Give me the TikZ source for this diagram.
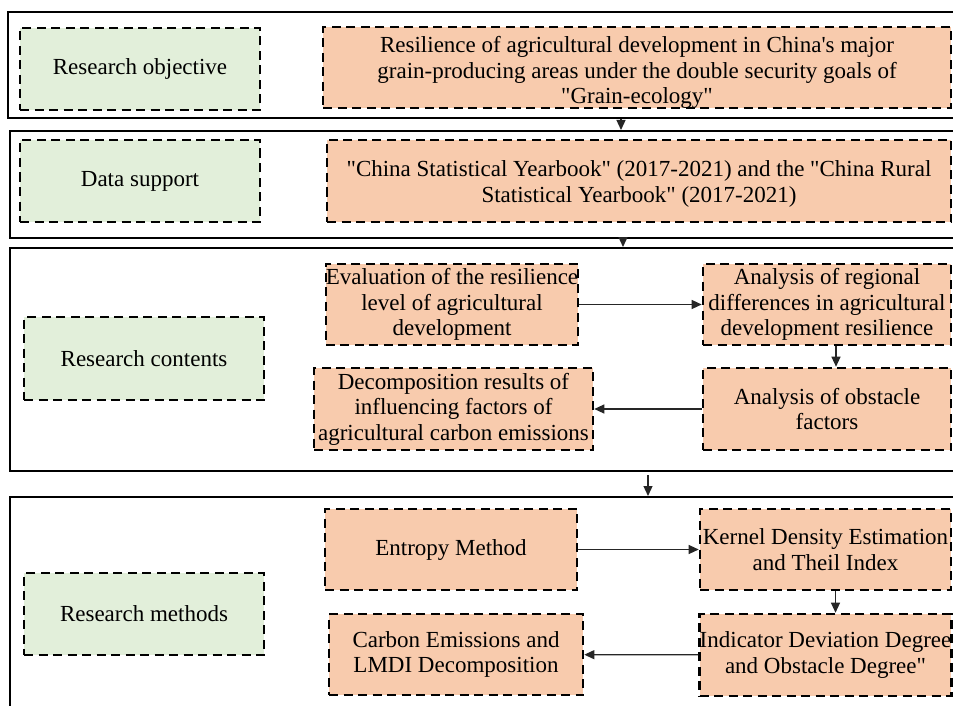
\documentclass[tikz,border=0pt]{standalone}
\usepackage{fontspec}
\setmainfont{Liberation Serif}[Ligatures=TeXOff]
\usetikzlibrary{arrows.meta}
\tikzset{
	band/.style={draw=black, line width=2pt, rectangle, inner sep=0pt},
	boxtext/.style={align=center, font=\fontsize{23}{25.5}\selectfont},
	dashbox/.style={draw=black, line width=2.6pt, dash pattern=on 9pt off 5.5pt, rectangle, inner sep=1pt, boxtext},
	greenbox/.style={dashbox, fill={rgb,255:red,226;green,239;blue,218}},
	orangebox/.style={dashbox, fill={rgb,255:red,248;green,203;blue,173}},
	flow/.style={line width=1.2pt, color=black!85, -{Triangle[length=10pt,width=9pt]}}
}

\begin{document}
\begin{tikzpicture}[x=1pt, y=-1pt]
		%%%%% START %%%%%
		\useasboundingbox (0, 0) rectangle (953, 706);
		\clip (0, 0) rectangle (953, 706);
		\fill[white] (0, 0) rectangle (953, 706);
		
		% frames of the four rows
		\node[band, minimum width=957pt, minimum height=106pt] (band1) at (486.5, 65) {};
		\node[band, minimum width=955pt, minimum height=107pt] (band2) at (487.5, 184.5) {};
		\node[band, minimum width=955pt, minimum height=223pt] (band3) at (487.5, 359.5) {};
		\node[band, minimum width=955pt, minimum height=223pt] (band4) at (487.5, 608.5) {};
		
		% left labels
		\node[greenbox, minimum width=240pt, minimum height=82pt] (obj) at (140, 69) {Research objective};
		\node[greenbox, minimum width=240pt, minimum height=82pt] (data) at (140, 181) {Data support};
		\node[greenbox, minimum width=240pt, minimum height=83pt] (cont) at (144, 358.5) {Research contents};
		\node[greenbox, minimum width=240pt, minimum height=82pt] (meth) at (144, 614) {Research methods};
		
		% row 1 and 2
		\node[orangebox, minimum width=628pt, minimum height=81pt,
			label={[boxtext, yshift=-5pt]center:{Resilience of agricultural development in China's major\\grain-producing areas under the double security goals of\\"Grain-ecology"}}] (goal) at (637, 67.5) {};
		\node[orangebox, minimum width=624pt, minimum height=82pt,
			label={[boxtext, yshift=-3pt]center:{"China Statistical Yearbook" (2017-2021) and the "China Rural\\Statistical Yearbook" (2017-2021)}}] (src) at (639, 181) {};
		
		% row 3
		\node[orangebox, inner xsep=0pt, minimum width=252pt, minimum height=81pt] (eval) at (452, 304.5) {Evaluation of the resilience\\level of agricultural\\development};
		\node[orangebox, minimum width=248pt, minimum height=81pt] (regdiff) at (827, 304.5) {Analysis of regional\\differences in agricultural\\development resilience};
		\node[orangebox, minimum width=248pt, minimum height=82pt] (obst) at (827, 409) {Analysis of obstacle\\factors};
		\node[orangebox, inner xsep=0pt, minimum width=279pt, minimum height=82pt] (decomp) at (453.5, 409) {Decomposition results of\\influencing factors of\\agricultural carbon emissions};
		
		% row 4
		\node[orangebox, minimum width=252pt, minimum height=81pt] (entropy) at (451, 549.5) {Entropy Method};
		\node[orangebox, inner xsep=0pt, minimum width=251pt, minimum height=81pt] (kernel) at (825.5, 549.5) {Kernel Density Estimation\\and Theil Index};
		\node[orangebox, inner xsep=0pt, minimum width=251pt, minimum height=82pt] (indic) at (825.5, 655) {Indicator Deviation Degree\\and Obstacle Degree"};
		\node[orangebox, minimum width=254pt, minimum height=81pt] (carbon) at (456, 654.5) {Carbon Emissions and\\LMDI Decomposition};
		
		% arrows between the rows
		\coordinate (j1) at (621, 0);
		\coordinate (j2) at (623, 0);
		\coordinate (j3) at (648, 0);
		\draw[flow] (band1.south -| j1) -- (band2.north -| j1);
		\draw[flow] (band2.south -| j2) -- (band3.north -| j2);
		\draw[flow] ([yshift=-3pt]band3.south -| j3) -- (band4.north -| j3);
		
		% arrows inside the rows
		\draw[flow] (eval) -- (regdiff);
		\draw[flow] ([xshift=9pt]regdiff.south) -- ([xshift=9pt]obst.north);
		\draw[flow] (obst) -- (decomp);
		\draw[flow] (entropy) -- (kernel);
		\draw[flow] ([xshift=10pt]kernel.south) -- ([xshift=10pt]indic.north);
		\draw[flow] (indic) -- (carbon);
		
		%%%%% END %%%%%
	\end{tikzpicture}
\end{document}
